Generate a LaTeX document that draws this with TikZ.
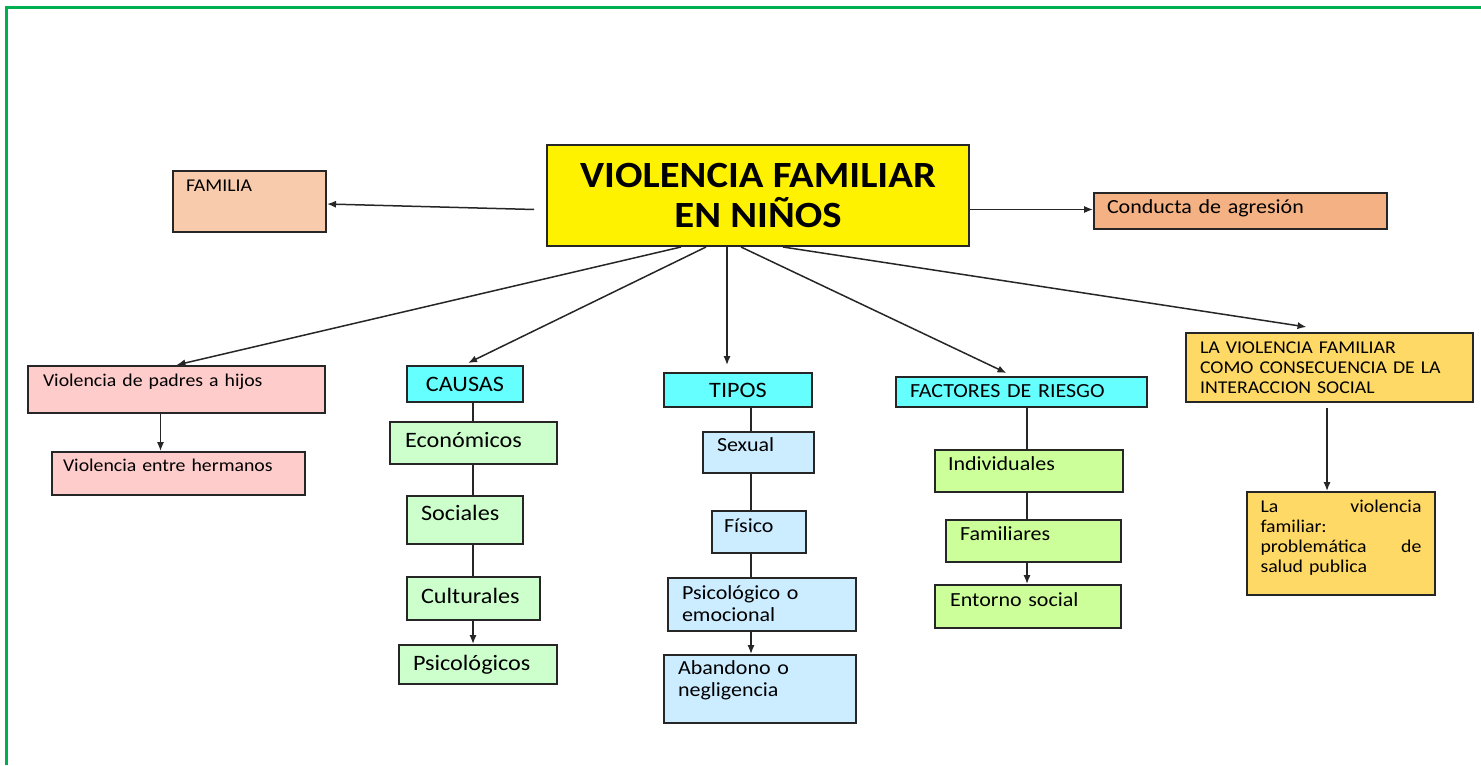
\documentclass[tikz,border=0pt]{standalone}
\usepackage{fontspec}
\setmainfont{Carlito}[FakeStretch=1.1]
\usetikzlibrary{arrows.meta}
\definecolor{peach}{HTML}{F8CBAD}
\definecolor{orangebox}{HTML}{F4B183}
\definecolor{pinkbox}{HTML}{FFCCCC}
\definecolor{cyanbox}{HTML}{66FFFF}
\definecolor{mintbox}{HTML}{CCFFCC}
\definecolor{skybox}{HTML}{CCECFF}
\definecolor{limebox}{HTML}{CCFF99}
\definecolor{goldbox}{HTML}{FFD966}
\definecolor{framegreen}{HTML}{00B050}

\begin{document}
\begin{tikzpicture}[x=0.5pt,y=-0.5pt,
 box/.style ={draw=black!85,line width=1pt,anchor=north west,inner ysep=0pt,align=left},
 headbox/.style ={draw=black!85,line width=1pt,anchor=north west,inner sep=0pt,fill=cyanbox,font=\fontsize{11}{13}\selectfont},
 small/.style ={font=\fontsize{9}{10}\selectfont},
 medium/.style ={font=\fontsize{10}{11}\selectfont},
 large/.style ={font=\fontsize{11}{13}\selectfont},
 link/.style ={-{Latex[length=4.5pt,width=3.6pt]},draw=black!85,line width=0.75pt},
 tie/.style ={-,draw=black!85,line width=0.75pt},
 frame/.style ={draw=framegreen,line width=1.5pt}
 ]
\useasboundingbox (0,0) rectangle (1481,765);
%draw green frame
\draw[frame] (6,765) -- (6,8) -- (1481,8);
%draw title
\node[draw=black!85,line width=1pt,fill=yellow,anchor=north west,inner sep=0pt,
 minimum width=211pt,minimum height=50.5pt,align=center,
 font=\fontsize{18.5}{20}\bfseries] (title) at (546,144) {VIOLENCIA FAMILIAR\\EN NIÑOS};
%draw side boxes
\node[box,small,fill=peach,text width=63.5pt,inner xsep=6.5pt,text height=10pt,text depth=20.5pt] (familia) at (172,170) {FAMILIA};
\node[box,medium,fill=orangebox,text width=133.5pt,inner xsep=6.5pt,text height=10pt,text depth=8pt] (conducta) at (1093,192) {Conducta de agresión};
%draw violencia column
\node[box,small,fill=pinkbox,text width=133.5pt,inner xsep=7.5pt,text height=10pt,text depth=13.5pt] (padres) at (27,365) {Violencia de padres a hijos};
\node[box,small,fill=pinkbox,text width=115.5pt,inner xsep=5.5pt,text height=9.5pt,text depth=12pt] (hermanos) at (51,451) {Violencia entre hermanos};
%draw causas column
\node[headbox,minimum width=58pt,minimum height=18pt] (causas) at (406,365) {CAUSAS};
\node[box,large,fill=mintbox,text width=68.5pt,inner xsep=7.5pt,text height=12.5pt,text depth=8.5pt] (economicos) at (389,421) {Económicos};
\node[box,large,fill=mintbox,text width=44pt,inner xsep=7pt,text height=12pt,text depth=12pt] (sociales) at (406,495) {Sociales};
\node[box,large,fill=mintbox,text width=52.5pt,inner xsep=7pt,text height=13pt,text depth=8.5pt] (culturales) at (406,576) {Culturales};
\node[box,large,fill=mintbox,text width=65pt,inner xsep=7pt,text height=12.5pt,text depth=7pt] (psicologicos) at (398,644) {Psicológicos};
%draw tipos column
\node[headbox,minimum width=74pt,minimum height=17pt] (tipos) at (663,372) {TIPOS};
\node[box,medium,fill=skybox,text width=41.5pt,inner xsep=7pt,text height=9.5pt,text depth=11pt] (sexual) at (702,431) {Sexual};
\node[box,medium,fill=skybox,text width=35pt,inner xsep=6pt,text height=10.5pt,text depth=10.5pt] (fisico) at (711,510) {Físico};
\node[box,medium,fill=skybox,text width=80pt,inner xsep=7pt,text height=10.5pt,text depth=16pt] (emocional) at (667,577) {Psicológico o\\emocional};
\node[box,medium,fill=skybox,text width=82pt,inner xsep=7pt,text height=9.5pt,text depth=24.5pt] (abandono) at (663,654) {Abandono o\\negligencia};
%draw factores column
\node[box,medium,fill=cyanbox,text width=111.5pt,inner xsep=7pt,text height=10pt,text depth=5pt] (factores) at (895,376) {FACTORES DE RIESGO};
\node[box,medium,fill=limebox,text width=81pt,inner xsep=6.5pt,text height=10pt,text depth=11pt] (individuales) at (934,449) {Individuales};
\node[box,medium,fill=limebox,text width=73.5pt,inner xsep=7pt,text height=10pt,text depth=11pt] (familiares) at (945,519) {Familiares};
\node[box,medium,fill=limebox,text width=78pt,inner xsep=7.5pt,text height=10.5pt,text depth=11pt] (entorno) at (934,584) {Entorno social};
%draw consecuencia column
\node[box,small,fill=goldbox,text width=129.5pt,inner xsep=7pt,text height=10pt,text depth=24.5pt] (consecuencia) at (1185,332) {LA VIOLENCIA FAMILIAR\\COMO CONSECUENCIA DE LA\\INTERACCION SOCIAL};
\node[box,small,fill=goldbox,text width=80.5pt,inner xsep=6.75pt,text height=10pt,text depth=41.5pt] (salud) at (1246,491) {La \hfill violencia\\familiar:\\problemática \hfill de\\salud publica};
%draw arrows from title
\draw[link] ([xshift=-6pt,yshift=-7pt]title.west) -- ([yshift=-1.25pt]familia.east);
\draw[link] ([yshift=-7pt]title.east) -- ([yshift=-7pt]title.east -| conducta.west);
\draw[link] ([xshift=-38.5pt]title.south) -- (padres.north);
\draw[link] ([xshift=-26pt]title.south) -- ([xshift=1.5pt,yshift=1pt]causas.north);
\draw[link] ([xshift=-15.5pt]title.south) -- ([xshift=-5.5pt,yshift=3.5pt]tipos.north);
\draw[link] ([xshift=-8.5pt]title.south) -- ([xshift=-7.5pt,yshift=1.5pt]factores.north);
\draw[link] ([xshift=12.5pt]title.south) -- ([xshift=-11.5pt,yshift=2.5pt]consecuencia.north);
%draw violencia links
\draw[link] ([xshift=-8pt]padres.south) -- ([xshift=-8pt]padres.south |- hermanos.north);
%draw causas links
\coordinate (causasaxis) at (473,0);
\draw[tie] (causas.south -| causasaxis) -- (economicos.north -| causasaxis);
\draw[tie] (economicos.south -| causasaxis) -- (sociales.north -| causasaxis);
\draw[tie] (sociales.south -| causasaxis) -- (culturales.north -| causasaxis);
\draw[link] (culturales.south -| causasaxis) -- (psicologicos.north -| causasaxis);
%draw tipos links
\coordinate (tiposaxis) at (751,0);
\draw[tie] (tipos.south -| tiposaxis) -- (sexual.north -| tiposaxis);
\draw[tie] (sexual.south -| tiposaxis) -- (fisico.north -| tiposaxis);
\draw[tie] (fisico.south -| tiposaxis) -- (emocional.north -| tiposaxis);
\draw[link] (emocional.south -| tiposaxis) -- (abandono.north -| tiposaxis);
%draw factores links
\coordinate (factoresaxis) at (1027,0);
\draw[tie] (factores.south -| factoresaxis) -- (individuales.north -| factoresaxis);
\draw[tie] (individuales.south -| factoresaxis) -- (familiares.north -| factoresaxis);
\draw[link] (familiares.south -| factoresaxis) -- (entorno.north -| factoresaxis);
%draw consecuencia link
\coordinate (consecuenciaaxis) at (1327,0);
\draw[link] ([yshift=-2.5pt]consecuencia.south -| consecuenciaaxis) -- (salud.north -| consecuenciaaxis);
\end{tikzpicture}
\end{document}
